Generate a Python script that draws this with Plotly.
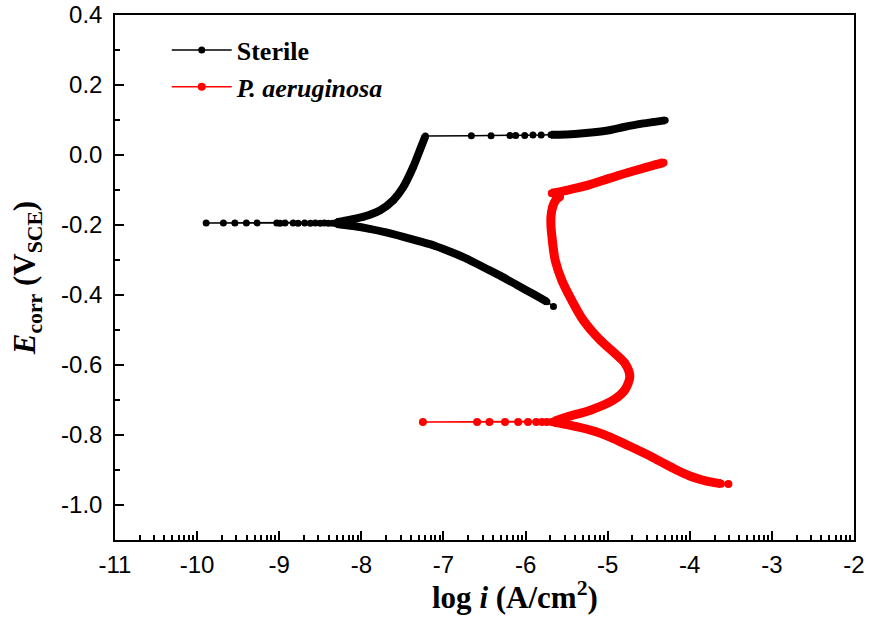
import numpy as np
import plotly.graph_objects as go

# Sterile: cathodic branch (from far end up to Ecorr)
sterile_cath_x = [-5.66, -5.74, -5.90, -6.10, -6.30, -6.50, -6.70, -6.90, -7.10, -7.30, -7.50, -7.70, -7.90, -8.10, -8.30]
sterile_cath_y = [-0.433, -0.419, -0.398, -0.372, -0.346, -0.322, -0.298, -0.278, -0.260, -0.246, -0.233, -0.221, -0.211, -0.203, -0.197]
# Sterile: scattered points around Ecorr
sterile_ecorr_x = [-8.35, -8.40, -8.45, -8.50, -8.56, -8.62, -8.69, -8.77, -8.83, -8.93, -8.99, -9.03, -9.27, -9.40, -9.54, -9.68, -9.89]
sterile_ecorr_y = [-0.195, -0.195, -0.194, -0.195, -0.194, -0.195, -0.194, -0.195, -0.194, -0.194, -0.195, -0.194, -0.194, -0.194, -0.194, -0.194, -0.194]
# Sterile: anodic branch up to the break
sterile_anod_x = [-8.30, -8.18, -7.98, -7.77, -7.61, -7.49, -7.37, -7.29, -7.22]
sterile_anod_y = [-0.192, -0.187, -0.177, -0.158, -0.129, -0.092, -0.035, 0.012, 0.054]
# Sterile: plateau after the break
sterile_pass_x = [-6.66, -6.42, -6.19, -6.12, -6.01, -5.91, -5.81]
sterile_pass_y = [0.055, 0.055, 0.056, 0.056, 0.056, 0.057, 0.057]
sterile_plat_x = [-5.69, -5.60, -5.40, -5.20, -5.00, -4.80, -4.60, -4.45, -4.30]
sterile_plat_y = [0.058, 0.058, 0.060, 0.064, 0.070, 0.080, 0.089, 0.094, 0.099]

# P. aeruginosa: cathodic branch (from far end up to Ecorr)
pa_cath_x = [-3.53, -3.62, -3.75, -3.87, -4.00, -4.16, -4.30, -4.45, -4.57, -4.75, -4.97, -5.15, -5.38, -5.55, -5.65]
pa_cath_y = [-0.940, -0.939, -0.934, -0.927, -0.917, -0.900, -0.883, -0.864, -0.850, -0.830, -0.806, -0.790, -0.776, -0.768, -0.764]
# P. aeruginosa: scattered points around Ecorr
pa_ecorr_x = [-5.68, -5.74, -5.80, -5.87, -5.97, -6.09, -6.25, -6.44, -6.59, -7.25]
pa_ecorr_y = [-0.763, -0.763, -0.763, -0.763, -0.763, -0.763, -0.763, -0.763, -0.763, -0.763]
# P. aeruginosa: anodic branch with the bulge
pa_anod_x = [-5.65, -5.49, -5.21, -4.93, -4.79, -4.73, -4.79, -4.91, -5.09, -5.30, -5.44, -5.56,
             -5.64, -5.66, -5.68, -5.69, -5.69, -5.67, -5.63, -5.58]
pa_anod_y = [-0.761, -0.748, -0.729, -0.700, -0.671, -0.633, -0.595, -0.567, -0.529, -0.471, -0.414, -0.357,
             -0.300, -0.271, -0.230, -0.205, -0.175, -0.148, -0.128, -0.119]
# P. aeruginosa: upper segment after the hook
pa_top_x = [-5.68, -5.50, -5.25, -5.05, -4.85, -4.60, -4.45, -4.32]
pa_top_y = [-0.109, -0.101, -0.087, -0.072, -0.057, -0.040, -0.030, -0.022]

x_ticks = [-11, -10, -9, -8, -7, -6, -5, -4, -3, -2]
x_ticklabels = ["-11", "-10", "-9", "-8", "-7", "-6", "-5", "-4", "-3", "-2"]
y_ticks = [-1.0, -0.8, -0.6, -0.4, -0.2, 0.0, 0.2, 0.4]
y_ticklabels = ["-1.0", "-0.8", "-0.6", "-0.4", "-0.2", "0.0", "0.2", "0.4"]
y_minor = [-0.9, -0.7, -0.5, -0.3, -0.1, 0.1, 0.3]


def add_series(fig, name, segs, dense, color, msize, thick):
    xs = [v for s in segs for v in s[0]]
    ys = [v for s in segs for v in s[1]]
    # thick smooth stroke under the densely sampled parts
    for dx, dy in dense:
        fig.add_trace(go.Scatter(x=dx, y=dy, mode='lines', showlegend=False, hoverinfo='skip',
                                 line=dict(color=color, width=thick, shape='spline', smoothing=0.8)))
    fig.add_trace(go.Scatter(x=xs, y=ys, mode='lines+markers', name=name,
                             line=dict(color=color, width=1.5),
                             marker=dict(color=color, size=msize)))


fig = go.Figure()
add_series(fig, "<b>Sterile</b>",
           [(sterile_cath_x, sterile_cath_y), (sterile_ecorr_x, sterile_ecorr_y),
            (sterile_anod_x, sterile_anod_y), (sterile_pass_x, sterile_pass_y), (sterile_plat_x, sterile_plat_y)],
           [(sterile_cath_x[1:], sterile_cath_y[1:]), (sterile_anod_x, sterile_anod_y), (sterile_plat_x, sterile_plat_y)],
           'black', 7, 8)
add_series(fig, "<b><i>P. aeruginosa</i></b>",
           [(pa_cath_x, pa_cath_y), (pa_ecorr_x, pa_ecorr_y), (pa_anod_x, pa_anod_y), (pa_top_x, pa_top_y)],
           [(pa_cath_x[1:], pa_cath_y[1:]), (pa_anod_x, pa_anod_y), (pa_top_x, pa_top_y)],
           '#FF0000', 8, 9)

x_minor = [d + np.log10(k) for d in range(-11, -2) for k in range(2, 10)]

axis_style = dict(showline=True, linecolor='black', linewidth=1.5, mirror=True,
                  ticks='inside', ticklen=9, tickwidth=1.5, tickcolor='black',
                  showgrid=False, zeroline=False, automargin=False,
                  tickfont=dict(family='Liberation Sans', size=24, color='black'))

fig.update_xaxes(range=[-11, -2], tickmode='array', tickvals=x_ticks, ticktext=x_ticklabels,
                 minor=dict(tickmode='array', tickvals=x_minor, ticks='inside', ticklen=5,
                            tickwidth=1.5, tickcolor='black'),
                 ticklabelstandoff=2, **axis_style)
fig.update_yaxes(range=[-1.1, 0.4], tickmode='array', tickvals=y_ticks, ticktext=y_ticklabels,
                 minor=dict(tickmode='array', tickvals=y_minor, ticks='inside', ticklen=5,
                            tickwidth=1.5, tickcolor='black'),
                 ticklabelstandoff=6,
                 title=dict(text="<i>E</i><sub>corr</sub> (V<sub>SCE</sub>)", standoff=16,
                            font=dict(family='Liberation Serif', size=31, color='black', weight='bold')),
                 **axis_style)

# x title sits a bit right of centre in the original, so place it as an annotation
fig.add_annotation(text="<b>log <i>i</i> (A/cm<sup>2</sup>)</b>", xref='paper', yref='paper',
                   x=0.541, y=-0.106, xanchor='center', yanchor='middle', showarrow=False,
                   font=dict(family='Liberation Serif', size=31, color='black'))

fig.update_layout(
    width=872, height=619,
    margin=dict(l=115, r=18, t=15, b=79),
    plot_bgcolor='white', paper_bgcolor='white',
    legend=dict(x=0.07, y=0.978, xanchor='left', yanchor='top', bgcolor='rgba(0,0,0,0)',
                font=dict(family='Liberation Serif', size=26, color='black'),
                tracegroupgap=0, itemwidth=60),
)

fig.write_html("out.html", config={'displayModeBar': False},
               post_script="document.body.style.margin='0px';")
